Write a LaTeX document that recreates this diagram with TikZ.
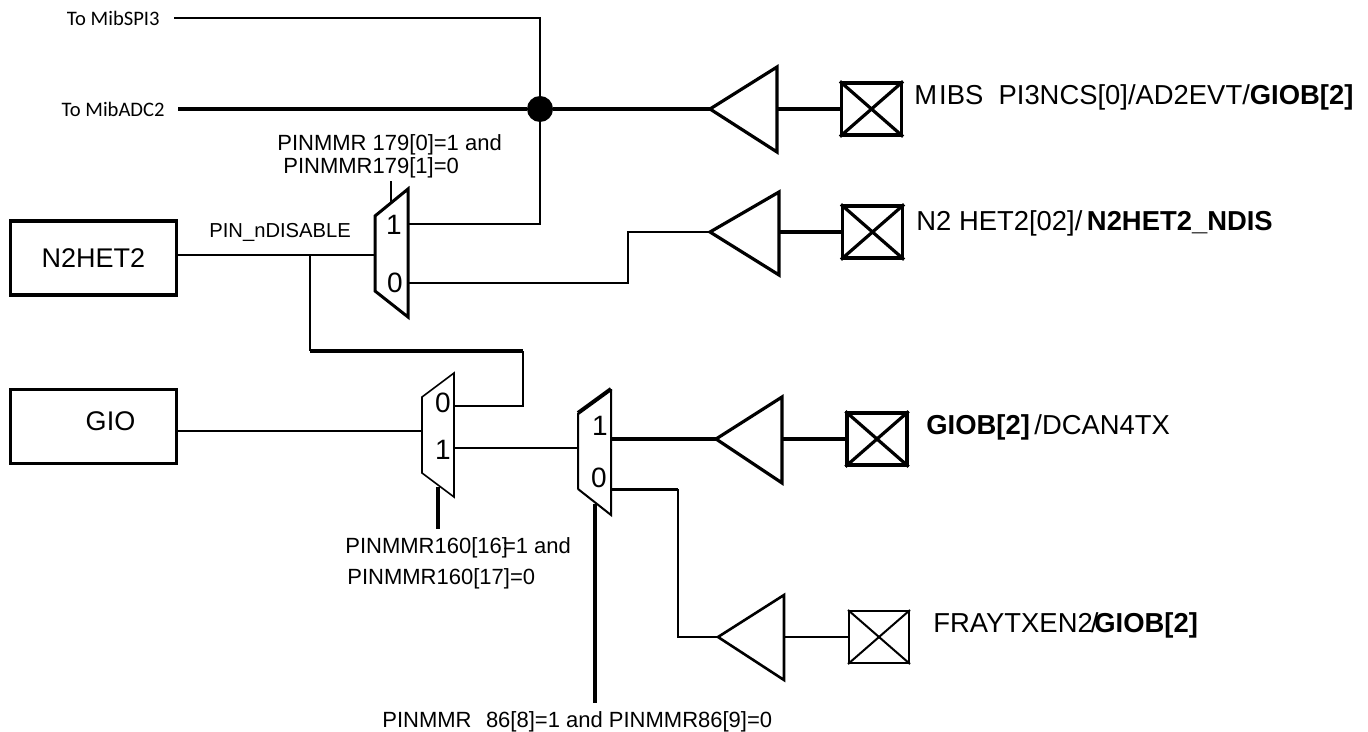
\documentclass[tikz,border=0pt]{standalone}
\usepackage{fontspec}
\setmainfont{Liberation Sans}
\newfontfamily\tofont{Carlito}

\begin{document}
\begin{tikzpicture}[
  x=0.5pt, y=-0.5pt,
  block/.style={rectangle, draw=black, line width=1.6pt, inner sep=0pt, minimum width=83pt, minimum height=37pt, font=\fontsize{13.5}{15}\selectfont},
  pad/.style={rectangle, draw=black, inner sep=0pt, minimum width=30pt, minimum height=26pt},
  junction/.style={circle, fill=black, inner sep=0pt, minimum size=13pt},
  lab/.style={inner sep=0pt, anchor=west, font=\fontsize{11}{13}\selectfont},
  namelab/.style={lab, font=\fontsize{13.7}{15}\selectfont},
  bitlab/.style={inner sep=0pt, font=\fontsize{14}{16}\selectfont},
  tolab/.style={anchor=east, inner ysep=0pt, font=\tofont\fontsize{10.3}{12}\selectfont},
  wire/.style={line width=1pt, draw=black},
  wirebold/.style={line width=2pt, draw=black}
]
  \useasboundingbox (0,0) rectangle (1368,732);

  % Entradas y bloques
  \node[tolab, inner xsep=7pt] (tospi) at (174,18) {To MibSPI3};
  \node[tolab, inner xsep=6.5pt] (toadc) at (178,109) {To MibADC2};
  \node[block] (n2het) at (93.5,258) {N2HET2};
  \node[block] (gio) at (93.5,426.5) {\hspace{17pt}\raisebox{2.5pt}[\height][0pt]{GIO}};
  \node[junction] (dot) at (540,109) {};

  % Multiplexores
  \draw[line width=1.5pt] (375,216) -- (408,189) -- (408,317) -- (375,291) -- cycle;
  \draw[line width=0.8pt] (422,397) -- (454,373) -- (454,497) -- (422,473) -- cycle;
  \draw[line width=1pt] (578,489) -- (578,413) (611,389) -- (611,515) -- (578,489);
  \draw[line width=2pt] (578,413) -- (611,389);
  \node[bitlab] (muxa1) at (394,225) {1};
  \node[bitlab] (muxa0) at (395,283) {0};
  \node[bitlab] (muxb0) at (443,403) {0};
  \node[bitlab] (muxb1) at (443,450) {1};
  \node[bitlab] (muxc1) at (600,426) {1};
  \node[bitlab] (muxc0) at (599,478) {0};

  % Puntos de conexion de los multiplexores
  \coordinate (muxaone) at (408,224);
  \coordinate (muxazero) at (408,283);
  \coordinate (muxain) at (375,255);
  \coordinate (muxazeroup) at (628,232);
  \coordinate (tee) at (310,255);
  \coordinate (corner) at (310,351);
  \coordinate (cornerb) at (523,351);
  \coordinate (muxbzero) at (454,406);
  \coordinate (muxbone) at (454,448);
  \coordinate (muxbin) at (422,431);
  \coordinate (muxcin) at (578,448);
  \coordinate (muxcone) at (611,439);
  \coordinate (muxczero) at (611,489);
  \coordinate (cornerc) at (678,489);

  % Buffers
  \foreach \name/\tipx/\tipy/\backx/\topy/\boty/\lw in {
    bufa/710/109/777/67/152/1.6pt, bufb/710/232/779/192/275/1.6pt,
    bufc/716/439/782/397/483/1.6pt, bufd/718/637/784/595/680/1.3pt}{
    \coordinate (\name) at (\tipx,\tipy);
    \coordinate (\name out) at (\backx,\tipy);
    \draw[line width=\lw] (\tipx,\tipy) -- (\backx,\topy) -- (\backx,\boty) -- cycle;
  }

  % Pads con cruz
  \foreach \name/\posx/\posy/\lw in {
    pada/871.5/109/1.6pt, padb/872.5/232/1.6pt,
    padc/877/439/1.6pt, padd/879/637/1pt}{
    \node[pad, line width=\lw] (\name) at (\posx,\posy) {};
    \draw[line width=\lw] (\name.north west) -- (\name.south east);
    \draw[line width=\lw] (\name.south west) -- (\name.north east);
  }

  % Conexiones
  \draw[wire] (tospi.east) -| (dot.north);
  \draw[wire] (dot.south) |- (muxaone);
  \draw[wirebold] (toadc.east) -- (dot.west);
  \draw[wirebold] (dot.east) -- (bufa);
  \draw[wirebold] (bufaout) -- (pada.west);
  \draw[wire] (n2het.east |- muxain) -- (muxain);
  \draw[wire] (muxazero) -| (muxazeroup) -- (bufb);
  \draw[wirebold] (bufbout) -- (padb.west);
  \draw[wire] (tee) -- (corner);
  \draw[wirebold] (corner) -- (cornerb);
  \draw[wire] (cornerb) |- (muxbzero);
  \draw[wire] (gio.east |- muxbin) -- (muxbin);
  \draw[wire] (muxbone) -- (muxcin);
  \draw[wirebold] (muxcone) -- (bufc);
  \draw[wirebold] (bufcout) -- (padc.west);
  \draw[line width=1.5pt] (muxczero) -- (cornerc);
  \draw[wire] (cornerc) |- (bufd);
  \draw[wire] (bufdout) -- (padd.west);

  % Lineas de seleccion
  \coordinate (sela) at (391,203);
  \coordinate (selatop) at (391,181);
  \coordinate (selb) at (438,487);
  \coordinate (selbend) at (438,529);
  \coordinate (selc) at (595,504);
  \coordinate (selcend) at (595,703);
  \draw[wire] (sela) -- (selatop);
  \draw[wirebold] (selb) -- (selbend);
  \draw[wirebold] (selc) -- (selcend);

  % Etiquetas
  \node[lab] (cfga) at (277,145) {PINMMR 179[0]=1 and};
  \node[lab] (cfgaa) at (283,168) {PINMMR179[1]=0};
  \node[lab, font=\fontsize{10.1}{12}\selectfont] (pindis) at (209,232) {PIN\_nDISABLE};
  \node[lab] (cfgb) at (345,548) {PINMMR160[16]\kern-2.5pt=1 and};
  \node[lab] (cfgbb) at (347,579) {PINMMR160[17]=0};
  \node[lab] (cfgc) at (382,722) {PINMMR\hspace{7.2pt}86[8]=1 and PINMMR86[9]=0};
  \node[namelab] (nama) at (914,97) {M\kern1pt IBS\ \ PI3NCS[0]/AD2EVT/\textbf{GIOB[2]}};
  \node[namelab] (namb) at (916,223) {N2 HET2[02]/\,\textbf{N2HET2\_NDIS}};
  \node[namelab] (namc) at (926,427) {\textbf{GIOB[2]}\,/DCAN4TX};
  \node[namelab] (namd) at (933,625) {FRAYTXEN2\kern-1pt/\kern-2pt\textbf{GIOB[2]}};
\end{tikzpicture}
\end{document}
